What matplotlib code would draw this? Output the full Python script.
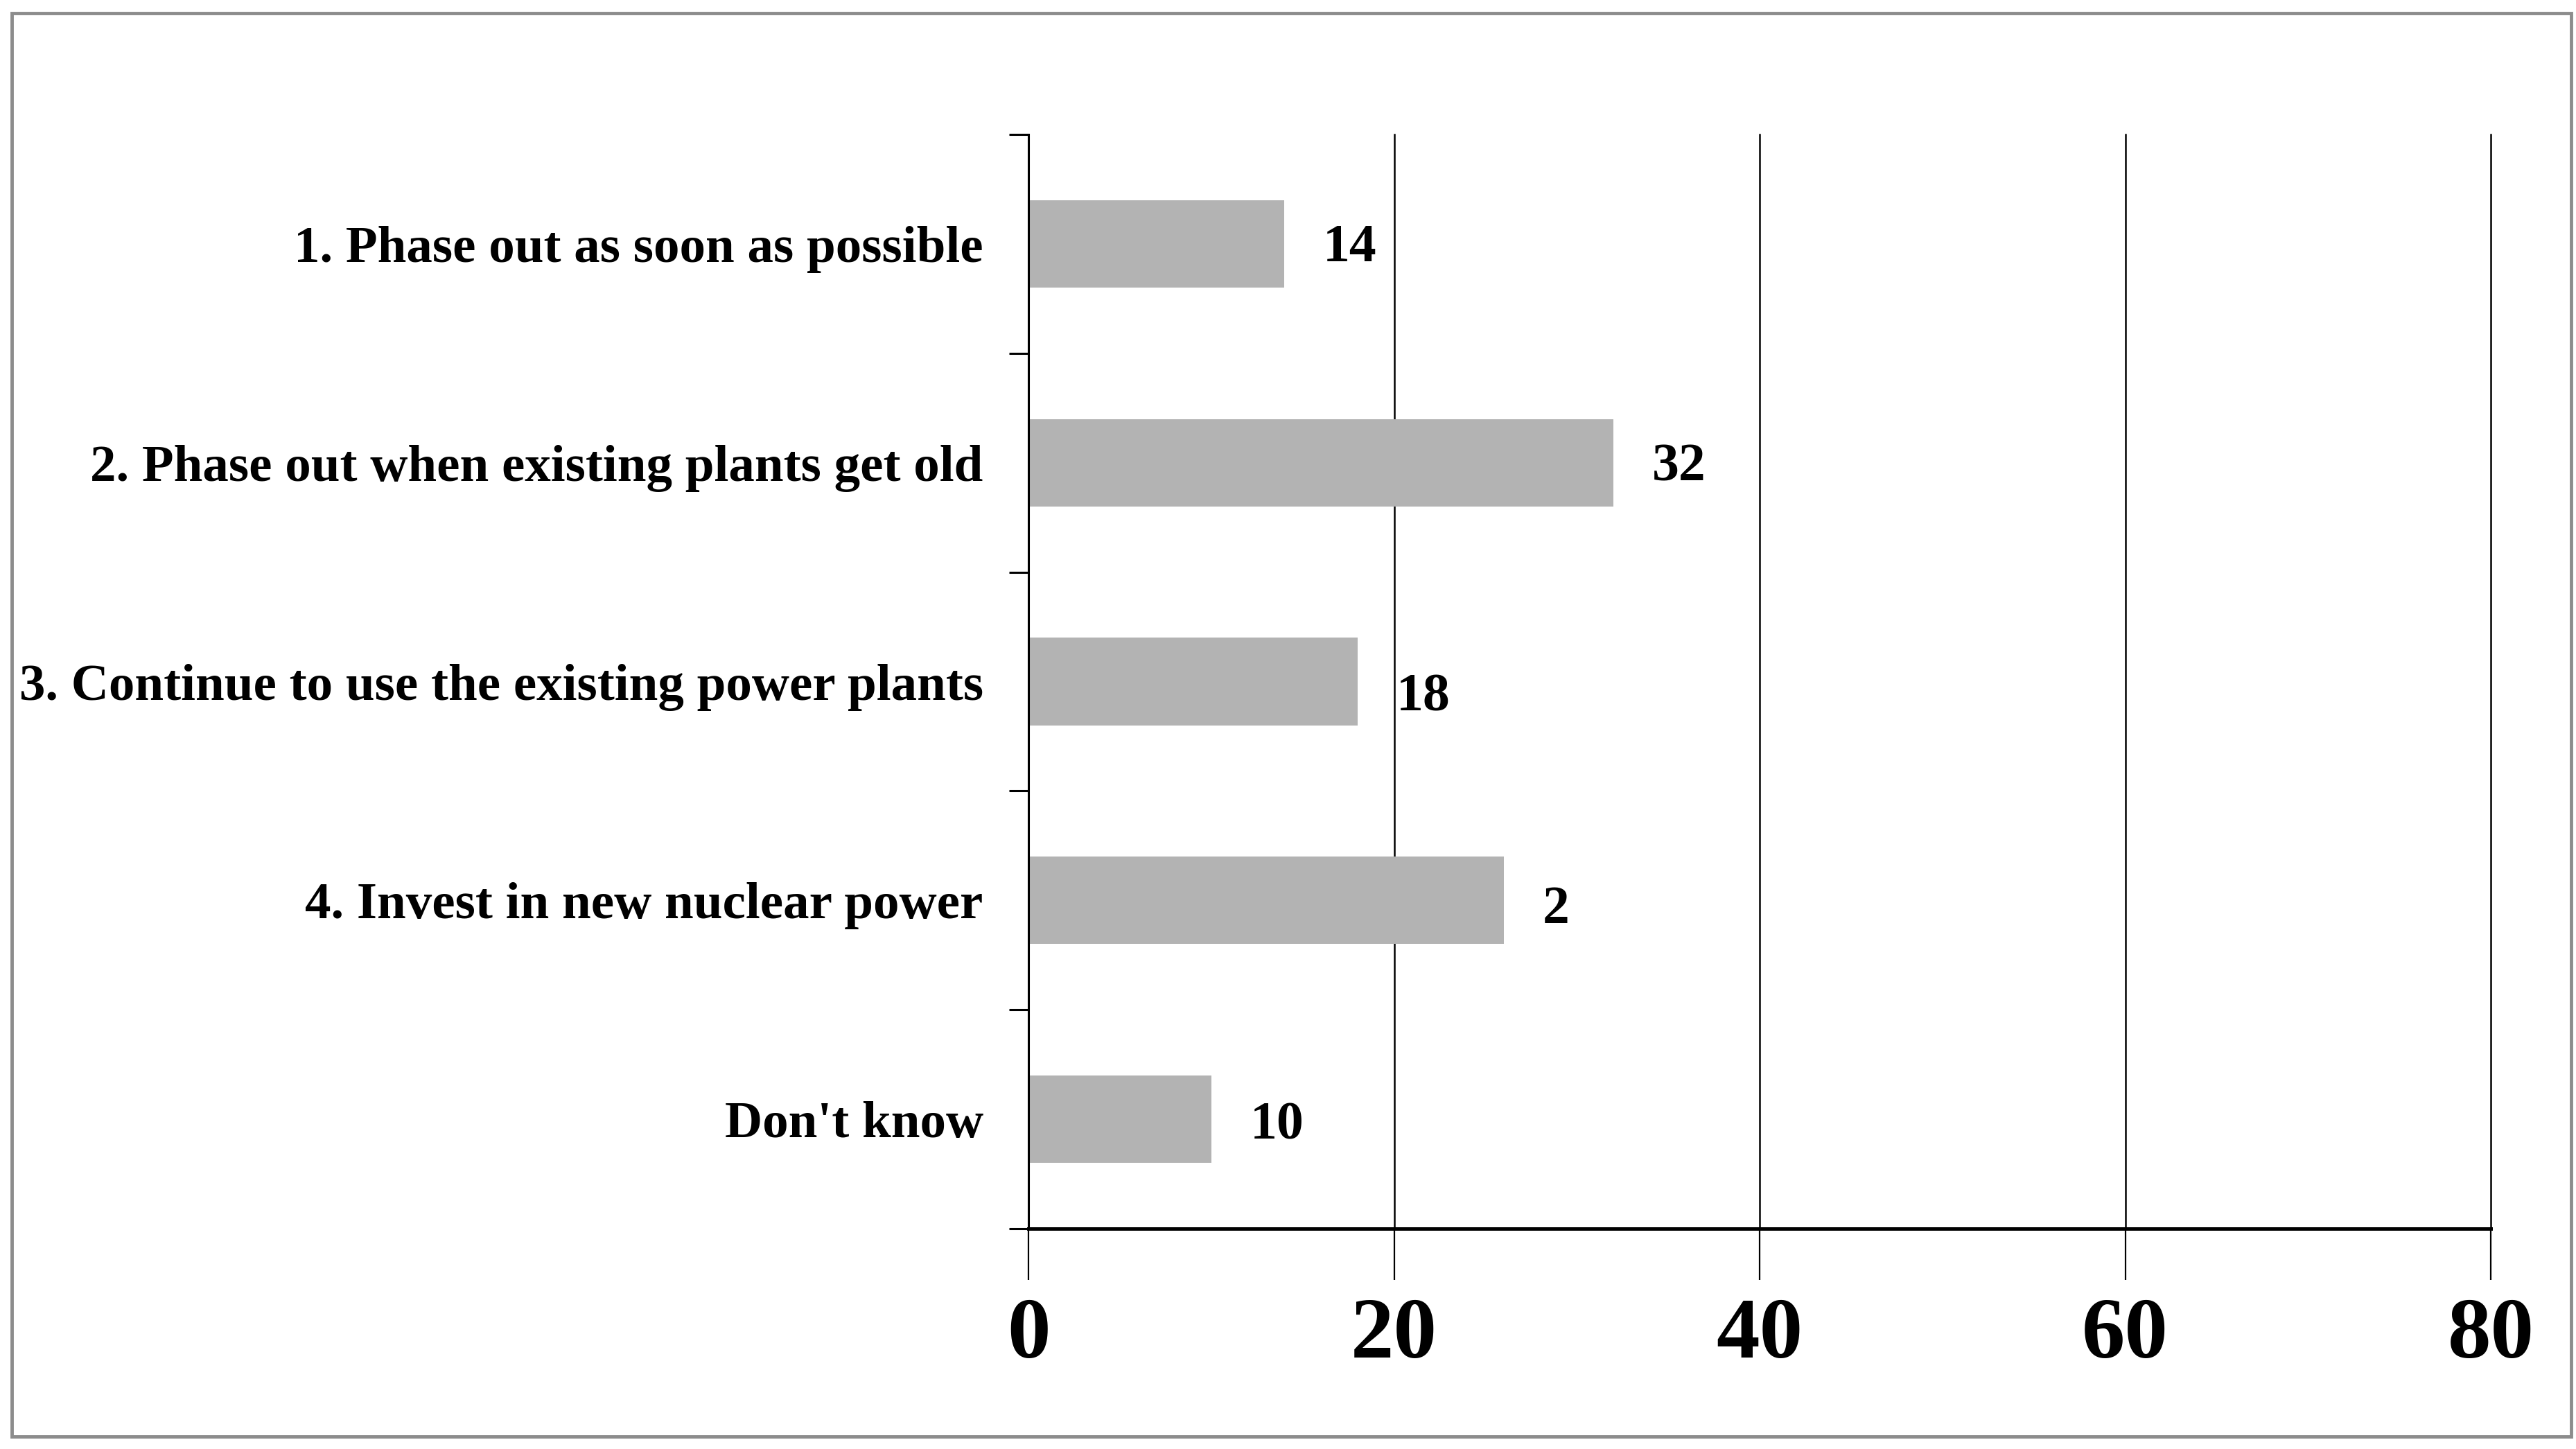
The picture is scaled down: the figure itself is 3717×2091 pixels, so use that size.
import matplotlib.pyplot as plt
from matplotlib.patches import Rectangle

# Data
categories = [
    "1. Phase out as soon as possible",
    "2. Phase out when existing plants get old",
    "3. Continue to use the existing power plants",
    "4. Invest in new nuclear power",
    "Don't know",
]
values = [14, 32, 18, 26, 10]
value_labels = ["14", "32", "18", "2", "10"]
x_ticks = [0, 20, 40, 60, 80]

W, H = 3717, 2091
fig = plt.figure(figsize=(W / 100, H / 100), dpi=100)
fig.patch.set_facecolor("white")

# Grey frame around the whole chart
fig.patches.append(Rectangle((17 / W, 1 - 2073 / H), (3710 - 17) / W, (2073 - 19) / H,
                             transform=fig.transFigure, fill=False,
                             edgecolor="#8c8c8c", linewidth=3.5))

x0, x1, ytop, ybot = 1484, 3594, 194, 1773
ax = fig.add_axes([x0 / W, 1 - ybot / H, (x1 - x0) / W, (ybot - ytop) / H])

font = "Liberation Serif"
pos = list(range(len(categories)))
ax.barh(pos, values, height=0.4, color="#b3b3b3", zorder=3)

# Value labels next to each bar
y_shift = [-5, -5, -17, -10, -7]
for p, v, lab, dy in zip(pos, values, value_labels, y_shift):
    ax.annotate(lab, (v, p), xytext=(40, dy), textcoords="offset points",
                ha="left", va="center", fontsize=56, fontweight="bold",
                family=font, zorder=4)

ax.set_xlim(0, 80)
ax.set_ylim(len(categories) - 0.5, -0.5)

ax.set_xticks(x_ticks)
ax.set_xticklabels([str(t) for t in x_ticks], fontsize=90, fontweight="bold", family=font)
ax.tick_params(axis="x", direction="out", length=53, width=1.6, pad=18)

ax.set_yticks(pos)
ax.set_yticklabels(categories, fontsize=54, fontweight="bold", family=font)
ax.tick_params(axis="y", which="major", length=0, pad=47)
ax.set_yticks([p - 0.5 for p in pos] + [len(pos) - 0.5], minor=True)
ax.tick_params(axis="y", which="minor", direction="out", length=20, width=2.2)

for x in x_ticks[1:]:
    ax.axvline(x, color="black", linewidth=1.8, zorder=2, clip_on=False)

for s in ["top", "right"]:
    ax.spines[s].set_visible(False)
ax.spines["left"].set_linewidth(2.2)
ax.spines["bottom"].set_linewidth(3.6)
ax.spines["left"].set_zorder(5)

fig.savefig("out.png", dpi=100)
plt.close(fig)
